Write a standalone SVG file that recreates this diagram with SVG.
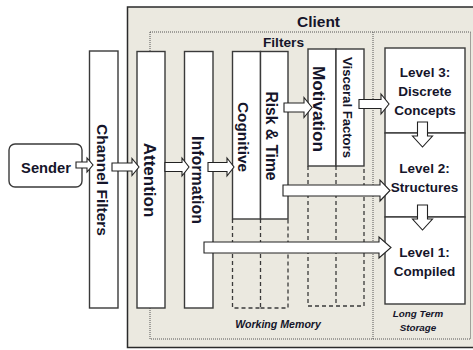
<svg xmlns="http://www.w3.org/2000/svg" width="473" height="350" viewBox="0 0 473 350">
<style>
.box{fill:#fff;stroke:#3a3a3a;stroke-width:1.4}
.dash{fill:none;stroke:#3a3a3a;stroke-width:1.3;stroke-dasharray:4 3}
.dot{fill:none;stroke:#555;stroke-width:1;stroke-dasharray:1 1}
.arr{fill:#fff;stroke:#222;stroke-width:1.1;stroke-linejoin:miter}
.t{font-family:"Liberation Sans",Arial,sans-serif;font-weight:bold;fill:#15152a;text-anchor:middle}
.ti{font-family:"Liberation Sans",Arial,sans-serif;font-weight:bold;font-style:italic;fill:#15152a;text-anchor:middle}
</style>
<rect width="473" height="350" fill="#fff"/>
<g id="client">
<rect x="127.5" y="7" width="350" height="340.5" fill="#ebe9e0" stroke="#2a2a2a" stroke-width="1.5"/>
<text class="t" x="318.5" y="27" font-size="15.5">Client</text>
<rect class="dot" x="150" y="32" width="320.5" height="307"/>
<line class="dot" x1="373" y1="32" x2="373" y2="339"/>
<text class="t" x="283.5" y="47" font-size="13.7">Filters</text>
<text class="ti" x="278" y="328" font-size="10.6">Working Memory</text>
<text class="ti" x="418" y="317" font-size="9.8">Long Term</text>
<text class="ti" x="418" y="331" font-size="9.8">Storage</text>
</g>
<g id="sender">
<rect class="box" x="9" y="144" width="73" height="43" rx="6"/>
<text class="t" x="46" y="173" font-size="14.7">Sender</text>
</g>
<g id="channel-filters">
<rect class="box" x="89.5" y="51" width="28.5" height="257"/>
<text class="t" font-size="15.5" transform="translate(97,180) rotate(90)">Channel Filters</text>
</g>
<g id="attention">
<rect class="box" x="137" y="51.5" width="28" height="256.5"/>
<text class="t" font-size="17" transform="translate(144,180) rotate(90)">Attention</text>
</g>
<g id="information">
<rect class="box" x="184.5" y="51.5" width="28.5" height="256.5"/>
<text class="t" font-size="16" transform="translate(192,180) rotate(90)">Information</text>
</g>
<g id="cognitive">
<rect class="box" x="232.5" y="51.5" width="28" height="167.5"/>
<polyline class="dash" points="232.5,219 232.5,308 260.5,308"/>
<line class="dash" x1="260.5" y1="219" x2="260.5" y2="308"/>
<text class="t" font-size="15.4" transform="translate(238,137) rotate(90)">Cognitive</text>
</g>
<g id="risk-time">
<rect class="box" x="260.5" y="51.5" width="27.5" height="167.5"/>
<polyline class="dash" points="260.5,308 288,308 288,219"/>
<text class="t" font-size="15.6" transform="translate(266,136) rotate(90)">Risk &amp; Time</text>
</g>
<g id="motivation">
<rect class="box" x="308" y="49" width="28" height="117"/>
<polyline class="dash" points="308,166 308,306 336,306"/>
<line class="dash" x1="336" y1="166" x2="336" y2="306"/>
<text class="t" font-size="17.2" transform="translate(313,109) rotate(90)">Motivation</text>
</g>
<g id="visceral-factors">
<rect class="box" x="336" y="49" width="28" height="117"/>
<polyline class="dash" points="336,306 364,306 364,166"/>
<text class="t" font-size="13.1" transform="translate(343,107.5) rotate(90)">Visceral Factors</text>
</g>
<g id="level3">
<rect class="box" x="385" y="48" width="80" height="85"/>
<text class="t" x="425" y="77" font-size="13.5">Level 3:</text>
<text class="t" x="425" y="96" font-size="13.5">Discrete</text>
<text class="t" x="425" y="115" font-size="13.5">Concepts</text>
</g>
<g id="level2">
<rect class="box" x="385" y="133" width="80" height="84"/>
<text class="t" x="424.5" y="173" font-size="13.5">Level 2:</text>
<text class="t" x="424.5" y="191.5" font-size="13.5">Structures</text>
</g>
<g id="level1">
<rect class="box" x="385" y="217" width="80" height="87"/>
<text class="t" x="424.5" y="257" font-size="13.5">Level 1:</text>
<text class="t" x="424.5" y="276" font-size="13.5">Compiled</text>
</g>
<g id="connectors">
<polygon class="arr" points="76,162 87,162 87,158 93,165 87,172 87,168 76,168"/>
<polygon class="arr" points="112,163 132,163 132,158.5 139,167 132,175.5 132,171 112,171"/>
<polygon class="arr" points="165,162.5 182,162.5 182,158 189,167 182,176 182,171.5 165,171.5"/>
<polygon class="arr" points="208,162.5 227,162.5 227,158 234,167 227,176 227,171.5 208,171.5"/>
<polygon class="arr" points="284,103 304,103 304,97.5 312,107.5 304,117.5 304,112 284,112"/>
<polygon class="arr" points="359,99.5 381,99.5 381,94 389,104 381,114 381,108.5 359,108.5"/>
<polygon class="arr" points="283,185 380,185 380,180 390,190.5 380,201 380,196 283,196"/>
<polygon class="arr" points="204,242 379,242 379,237 391,247.5 379,258 379,253 204,253"/>
<polygon class="arr" points="417.5,122 427.5,122 427.5,136 432.5,136 422.5,147 412.5,136 417.5,136"/>
<polygon class="arr" points="417.5,205 427.5,205 427.5,219 432.5,219 422.5,230 412.5,219 417.5,219"/>
</g>
</svg>
